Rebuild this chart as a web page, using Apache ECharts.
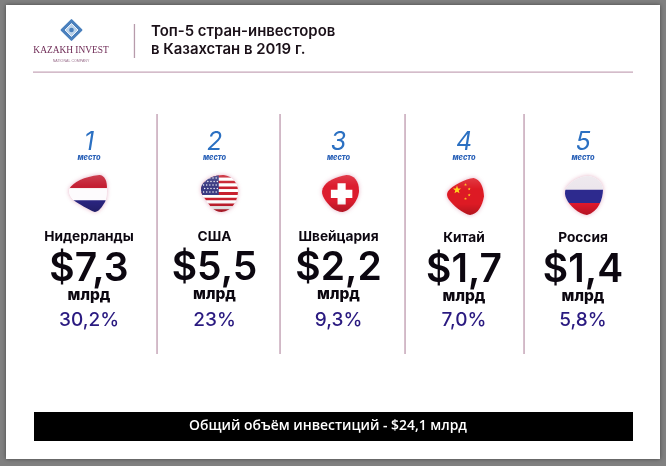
<!DOCTYPE html>
<html><head><meta charset="utf-8">
<style>html,body{margin:0;padding:0;background:#808080}#c{width:666px;height:466px}</style>
<script src="https://cdn.jsdelivr.net/npm/echarts@6/dist/echarts.min.js"></script>
</head><body><div id="c"></div>
<script>
const titleLines = ['Топ-5 стран-инвесторов', 'в Казахстан в 2019 г.'];
const brand = 'KAZAKH INVEST';
const brandSub = 'NATIONAL COMPANY';
const places = ['1', '2', '3', '4', '5'];
const placeWord = 'место';
const countries = ['Нидерланды', 'США', 'Швейцария', 'Китай', 'Россия'];
const flags = ['nl', 'us', 'ch', 'cn', 'ru'];
const values = ['$7,3', '$5,5', '$2,2', '$1,7', '$1,4'];
const unit = 'млрд';
const shares = ['30,2%', '23%', '9,3%', '7,0%', '5,8%'];
const totalText = 'Общий объём инвестиций - $24,1 млрд';

const F = 'Inter, "Noto Sans", sans-serif';
const BLOBS = {
  nl: 'M0 38 C10 20 40 4 80 0 C94 0 102 18 100 38 C100 55 98 72 92 78 C84 92 76 100 68 100 C50 92 25 78 12 68 C4 60 -2 50 0 38 Z',
  us: 'M2 30 C12 10 40 0 62 1 C84 4 100 22 100 44 C100 70 84 98 56 100 C36 100 24 84 12 66 C2 54 -2 44 2 30 Z',
  ch: 'M2 36 C10 16 40 4 66 0 C88 0 100 18 100 42 C100 66 78 96 56 100 C34 100 16 80 6 64 C0 54 -2 46 2 36 Z',
  cn: 'M2 36 C14 20 50 2 72 0 C92 4 100 30 100 50 C96 74 84 98 62 100 C42 96 16 74 4 58 C-2 50 -2 42 2 36 Z',
  ru: 'M2 34 C12 14 40 0 62 0 C84 2 100 18 100 34 C100 60 88 92 58 100 C36 98 12 76 4 58 C0 50 0 42 2 34 Z'
};
const BOX = { nl:[69,175,38,37], us:[201,175,37,37], ch:[322,175,37,37], cn:[447,178,37,37], ru:[565,176,38,39] };

function rect(x, y, w, h, fill) { return { type:'rect', shape:{x,y,width:w,height:h}, style:{fill} }; }
function star(cx, cy, r, fill) {
  const p = [];
  for (let i = 0; i < 10; i++) {
    const a = -Math.PI/2 + i*Math.PI/5, q = i%2 ? r*0.42 : r;
    p.push([cx + q*Math.cos(a), cy + q*Math.sin(a)]);
  }
  return { type:'polygon', shape:{points:p}, style:{fill} };
}
function flagParts(k, w, h) {
  const c = [];
  if (k === 'nl') {
    c.push(rect(0,0,w,h*.36,'#c41f33'), rect(0,h*.36,w,h*.32,'#fdfbfd'), rect(0,h*.68,w,h*.32,'#2a2580'));
  } else if (k === 'ru') {
    c.push(rect(0,0,w,h*.37,'#ece6ec'), rect(0,h*.35,w,h*.34,'#2d2a8e'), rect(0,h*.69,w,h*.31,'#e0182c'));
  } else if (k === 'ch') {
    c.push(rect(0,0,w,h,'#dc1c2e'));
    c.push(rect(w*.42,h*.22,w*.22,h*.58,'#fff'), rect(w*.24,h*.40,w*.58,h*.22,'#fff'));
  } else if (k === 'cn') {
    c.push(rect(0,0,w,h,'#dd1a24'));
    c.push(star(w*.27,h*.32,w*.115,'#ffd21e'));
    [[.50,.18],[.60,.30],[.60,.46],[.50,.56]].forEach(p => c.push(star(w*p[0],h*p[1],w*.042,'#ffc81e')));
  } else {
    const n = 7;
    for (let i = 0; i < n; i++) c.push(rect(0,h*i*2/13,w,h/13,'#c8202f'), rect(0,h*(i*2+1)/13,w,h/13,'#fff'));
    c.push(rect(0,0,w*.48,h*.54,'#3a3a82'));
    for (let r = 0; r < 5; r++) for (let q = 0; q < 5; q++) {
      c.push({type:'circle',shape:{cx:w*(.07+q*.085)+(r%2?w*.03:0),cy:h*(.08+r*.095),r:.7},style:{fill:'#fff'}});
    }
  }
  return c;
}
function flagGroup(k) {
  const [x,y,w,h] = BOX[k];
  const path = BLOBS[k];
  return {
    type:'group', x, y,
    children:[
      { type:'path', shape:{pathData:path,layout:'cover',x:0,y:0,width:w,height:h},
        style:{fill:'#fff',shadowBlur:4,shadowColor:'rgba(190,60,110,.4)'} },
      { type:'group',
        clipPath:{ type:'path', shape:{pathData:path,layout:'cover',x:0,y:0,width:w,height:h} },
        children: flagParts(k,w,h).concat([
          { type:'rect', shape:{x:0,y:0,width:w,height:h*.3},
            style:{fill:{type:'linear',x:0,y:0,x2:0,y2:1,colorStops:[{offset:0,color:'rgba(255,255,255,.14)'},{offset:1,color:'rgba(255,255,255,0)'}]}} },
          { type:'rect', shape:{x:0,y:h*.7,width:w,height:h*.3},
            style:{fill:{type:'linear',x:0,y:0,x2:0,y2:1,colorStops:[{offset:0,color:'rgba(0,0,0,0)'},{offset:1,color:'rgba(0,0,0,.2)'}]}} }
        ]) }
    ]
  };
}
function t(x, y, text, size, weight, fill, extra) {
  return { type:'text', x, y, style:Object.assign({ text, fontFamily:F, fontSize:size, fontWeight:weight, fill, align:'center', verticalAlign:'middle' }, extra||{}) };
}
const nudge = [0, 1, 0.5, 1.5, -4];
const yShift = [0, -1, -1, 1, 1];

const divColor = '#c6a6b8';
const chrome = [
  { type:'rect', shape:{x:6,y:5,width:654,height:454}, style:{fill:'#fff',shadowBlur:4,shadowColor:'rgba(0,0,0,.45)'}, z:-2 },
  { type:'rect', shape:{x:33,y:71.5,width:600,height:1.3}, style:{fill:divColor} },
  { type:'rect', shape:{x:133.8,y:24,width:1.3,height:34}, style:{fill:'#b79bab'} },
  { type:'rect', shape:{x:34,y:412,width:599,height:29}, style:{fill:'#000'} },
  // logo
  { type:'rect', x:71.5, y:30, rotation:Math.PI/4, shape:{x:-8,y:-8,width:16,height:16,r:1}, style:{fill:'#4a80bd'} },
  { type:'rect', x:71.5, y:30, rotation:Math.PI/4, shape:{x:-4.6,y:-4.6,width:9.2,height:9.2}, style:{fill:'#bcd3ea',stroke:'#fff',lineWidth:.8} },
  { type:'circle', shape:{cx:71.5,cy:30,r:2.3}, style:{fill:'#4a80bd'} },
  { type:'text', x:71, y:51, style:{text:brand,fontFamily:'"Liberation Serif", serif',fontSize:9.4,fill:'#6e2a55',align:'center',verticalAlign:'middle'} },
  { type:'text', x:71, y:60.5, style:{text:brandSub,fontFamily:'"Liberation Sans", sans-serif',fontSize:3.6,fill:'#9a6f8c',align:'center',verticalAlign:'middle'} },
  { type:'text', x:151, y:31.5, style:{text:titleLines[0],fontFamily:F,fontSize:14.9,fontWeight:600,fill:'#1a1018',align:'left',verticalAlign:'middle'} },
  { type:'text', x:151, y:49.5, style:{text:titleLines[1],fontFamily:F,fontSize:14.9,fontWeight:600,fill:'#1a1018',align:'left',verticalAlign:'middle'} },
  { type:'text', x:328, y:426.5, style:{text:totalText,fontFamily:'"Open Sans", sans-serif',fontSize:13.9,fontWeight:600,fill:'#fff',align:'center',verticalAlign:'middle'} }
];
[157, 280, 405, 524].forEach(x => chrome.push({ type:'rect', shape:{x:x-.7,y:114,width:1.5,height:240}, style:{fill:divColor} }));

const chart = echarts.init(document.getElementById('c'), null, { renderer:'canvas' });
chart.setOption({
  backgroundColor:'#808080',
  animation:false,
  graphic:{ elements: chrome },
  grid:{ left:26.75, width:622.5, top:100, bottom:100 },
  xAxis:{ type:'category', data:countries, show:false },
  yAxis:{ type:'value', min:0, max:1, show:false },
  series:[{
    type:'custom',
    coordinateSystem:'cartesian2d',
    data: countries.map((c,i) => [i, 0]),
    z:5,
    renderItem(params, api) {
      const i = api.value(0);
      const x = api.coord([i, 0])[0] + nudge[i];
      const s = yShift[i];
      return { type:'group', children:[
        t(x, 142, places[i], 25, 400, '#2b70c2', {fontStyle:'italic'}),
        t(x, 157.5, placeWord, 7.4, 800, '#2b62b8', {fontStyle:'italic'}),
        flagGroup(flags[i]),
        t(x, 237+Math.max(s,0), countries[i], 13.7, 700, '#0c0710'),
        t(x, 269+s, values[i], 39, 600, '#0c0710'),
        t(x, 295.5+s, unit, 15.5, 800, '#0c0710'),
        t(x, 320, shares[i], 19, 500, '#2a1a80')
      ]};
    }
  }]
});
</script></body></html>
